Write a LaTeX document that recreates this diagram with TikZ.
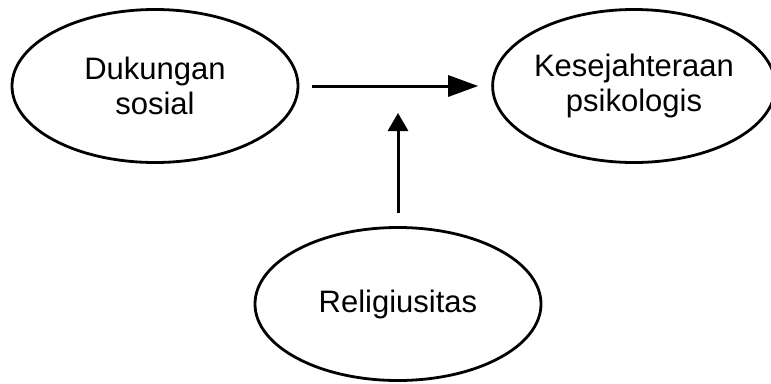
\documentclass[tikz,border=0pt]{standalone}
\usepackage{fontspec}
\setmainfont{Liberation Sans}
\usetikzlibrary{shapes.geometric,arrows.meta}
\begin{document}
\begin{tikzpicture}[x=1pt,y=-1pt]
        \tikzstyle{var}=[draw, ellipse, line width=2.8pt, minimum width=286pt, minimum height=153pt, inner sep=0pt, align=center, font=\fontsize{31}{35}\selectfont]
        \tikzstyle{link}=[line width=3pt, shorten <=13pt, shorten >=13pt]
            \useasboundingbox (0,0) rectangle (771,383);
            \node[var] (d) at (155,86) {Dukungan\\sosial};
            \node[var, minimum width=274pt] (k) at (634,86) {Kesejahteraan\\psikologis};
            \node[var] (r) at (398,304) {Religiusitas};
            \coordinate (t) at (398,113);
            \draw[link, -{Triangle[length=30pt,width=21pt]}] (d) -- (k);
            \draw[link, shorten >=0pt, -{Triangle[length=18pt,width=20pt]}] (r) -- (t);
        \end{tikzpicture}
\end{document}
